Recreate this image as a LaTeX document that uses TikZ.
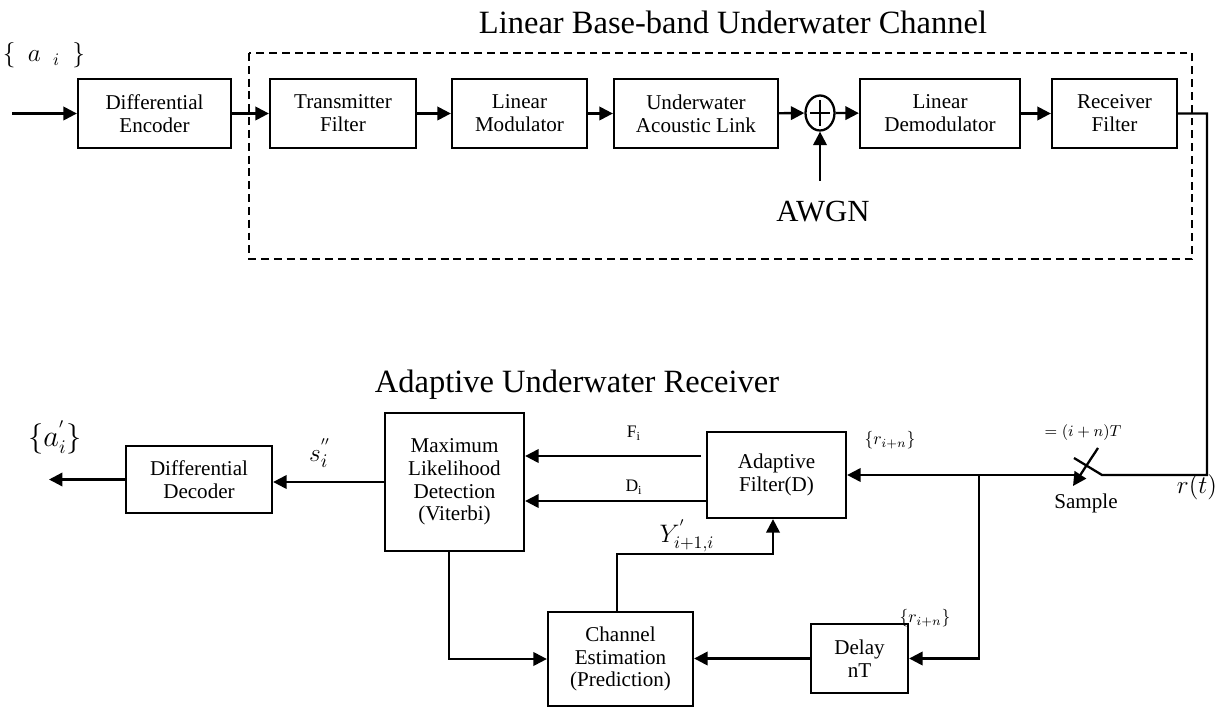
\documentclass[tikz,border=0pt]{standalone}
\usepackage{fontspec}
\setmainfont{Liberation Serif}
\usetikzlibrary{arrows.meta,shapes.geometric,calc}
\begin{document}
\begin{tikzpicture}[x=0.02cm,y=-0.02cm,
  line width=1.3pt,
  arr/.style={-{Triangle[length=0.27cm,width=0.27cm]}},
  blk/.style 2 args={draw,line width=1.3pt,minimum width=#1*0.02cm,minimum height=#2*0.02cm,inner sep=0pt,align=center,font=\fontsize{12}{13}\selectfont},
  lbl/.style={inner sep=0pt,align=center},
  chan/.style={draw,line width=0.9pt,dash pattern=on 4.5pt off 2.8pt}]
\useasboundingbox (0,0) rectangle (1220,709);
% titles
\node[lbl,font=\fontsize{18.5}{20}\selectfont] (t1) at (733,22) {Linear Base-band Underwater Channel};
\node[lbl,font=\fontsize{18.5}{20}\selectfont] (t2) at (577,385) {Adaptive Underwater Receiver};
% channel dashed box
\draw[chan] (249,53) rectangle (1192,259);
% top row
\node[blk={153}{69}] (enc) at (154.5,113.5) {Differential\\Encoder};
\node[blk={146}{69}] (tx) at (343,113.5) {Transmitter\\Filter};
\node[blk={135}{69}] (mod) at (519.5,113.5) {Linear\\Modulator};
\node[blk={164}{69}] (link) at (696,113.5) {Underwater\\Acoustic Link};
\node[draw,ellipse,line width=1.3pt,minimum width=29*0.02cm,minimum height=35*0.02cm,inner sep=0pt] (sum) at (820,113) {};
\draw[line width=1.1pt] ($(sum.center)+(-10,0)$) -- ($(sum.center)+(10,0)$);
\draw[line width=1.1pt] ($(sum.center)+(0,-13)$) -- ($(sum.center)+(0,13)$);
\node[blk={160}{69}] (demod) at (940,113.5) {Linear\\Demodulator};
\node[blk={125}{69}] (rxf) at (1114.5,113.5) {Receiver\\Filter};
\coordinate (in) at (12,113.5);
\coordinate (noise) at (820,181);
\node[lbl,font=\fontsize{17.5}{19}\selectfont] (awgn) at (823,212) {AWGN};
\node[lbl,font=\fontsize{14}{15}\selectfont] (ain) at (44,55) {$\{\ \ a\ \ _{i}\ \ \}$};
\draw[arr] (in) -- (enc.west);
\draw[arr] (enc) -- (tx);
\draw[arr] (tx) -- (mod);
\draw[arr] (mod) -- (link);
\draw[arr] (link) -- (sum);
\draw[arr] (sum) -- (demod);
\draw[arr] (demod) -- (rxf);
\draw[arr] (noise) -- (sum.south);
% receiver
\node[blk={139}{138}] (ml) at (454.5,482) {Maximum\\Likelihood\\Detection\\(Viterbi)};
\node[blk={139}{86}] (af) at (776.5,475) {Adaptive\\Filter(D)};
\node[blk={145}{94}] (ce) at (620.5,659) {Channel\\Estimation\\(Prediction)};
\node[blk={97}{69}] (dl) at (859.5,658.5) {Delay\\nT};
\node[blk={146}{67}] (dec) at (199,479.5) {Differential\\Decoder};
% sampler
\coordinate (rcorner) at (1207,113.5);
\coordinate (rdown) at (1207,475);
\coordinate (pivot) at (1102,475);
\coordinate (blade) at (1074,458);
\coordinate (swl) at (1080,475);
\coordinate (j) at (979,475);
\coordinate (sa) at (1098,448);
\coordinate (sb) at (1073,486);
\draw (rxf.east) -- (rcorner) -- (rdown) -- (pivot) -- (blade);
\draw[arr] (sa) -- (sb);
\draw[arr] (swl) -- (af.east |- swl);
\draw[arr] (j) |- (dl.east);
\draw[arr] (dl.west) -- (ce.east |- dl.west);
\coordinate (mlb) at (449,551);
\draw[arr] (mlb) |- (ce.west);
\coordinate (cet) at (617,612);
\coordinate (yk) at (773,554);
\draw[arr] (cet) |- (yk) -- (yk |- af.south);
\coordinate (fy) at (0,456);
\coordinate (dy) at (0,501);
\draw[arr] (af.west |- fy) ++(-5,0) -- (ml.east |- fy);
\draw[arr] (af.west |- dy) -- (ml.east |- dy);
\draw[arr] (ml.west) -- (dec.east |- ml.west);
\coordinate (out) at (49,479.5);
\draw[arr] (dec.west) -- (out);
% labels
\node[lbl,font=\fontsize{10}{11}\selectfont] (fl) at (634,433) {F\textsubscript{i}};
\node[lbl,font=\fontsize{10}{11}\selectfont] (dlb) at (634,487) {D\textsubscript{i}};
\node[lbl,font=\fontsize{14}{15}\selectfont] (yl) at (687,536) {$Y^{'}_{i+1,i}$};
\node[lbl,font=\fontsize{10}{11}\selectfont] (r1) at (890,440) {$\{r_{i+n}\}$};
\node[lbl,font=\fontsize{10}{11}\selectfont] (r2) at (925,618) {$\{r_{i+n}\}$};
\node[lbl,font=\fontsize{9.5}{10}\selectfont] (tl) at (1083,433) {$=(i+n)T$};
\node[lbl,font=\fontsize{12}{13}\selectfont] (smp) at (1086,503) {Sample};
\node[lbl,font=\fontsize{13.5}{14}\selectfont] (rt) at (1197,487) {$r(t)$};
\node[lbl,font=\fontsize{16}{17}\selectfont] (aout) at (55,437) {$\{a^{'}_{i}\}$};
\node[lbl,font=\fontsize{15}{16}\selectfont] (sl) at (320,453) {$s^{''}_{i}$};
\end{tikzpicture}
\end{document}
